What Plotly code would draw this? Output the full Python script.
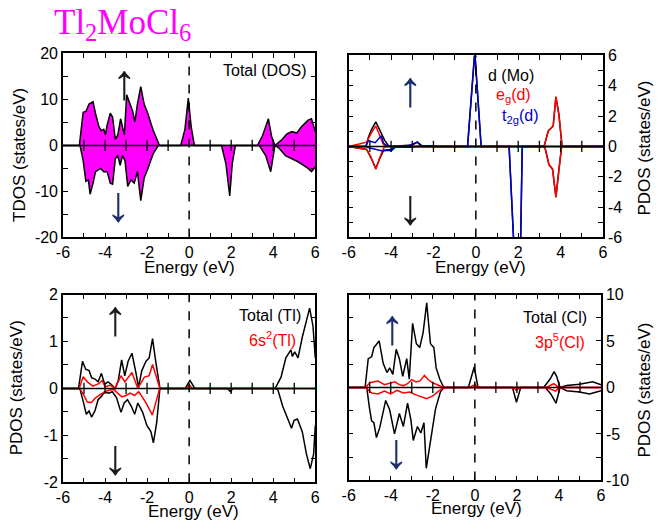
import plotly.graph_objects as go

# ---------------- data ----------------
# Top-left: total DOS
tdos_up_x = [-6, -5.22, -5.04, -4.91, -4.76, -4.57, -4.45, -4.29, -4.17, -4.06, -3.98, -3.90, -3.75, -3.64,
             -3.51, -3.39, -3.26, -3.17, -3.08, -2.97, -2.81, -2.69, -2.58, -2.46, -2.30, -2.14, -1.96, -1.72,
             -1.41, -0.40, -0.20, -0.04, 0.10, 0.25, 3.25, 3.49, 3.77, 3.92, 4.08, 4.42, 4.65, 4.89, 5.12, 5.35,
             5.66, 5.82, 6.0]
tdos_up_y = [0, 0, 7.2, 7.4, 9.0, 9.5, 6.9, 4.1, 3.2, 3.5, 2.3, 4.4, 7.0, 6.2,
             1.3, 2.3, 5.8, 4.1, 2.3, 11.0, 9.0, 7.5, 5.1, 9.0, 12.8, 9.0, 6.9, 3.4,
             0, 0, 3.5, 10.3, 4.0, 0, 0, 2.1, 5.8, 2.0, 0, 1.3, 2.5, 3.0, 2.7, 4.1,
             5.5, 5.8, 3.0]
tdos_dn_x = [-6, -5.19, -5.04, -4.91, -4.79, -4.71, -4.57, -4.45, -4.21, -4.06, -3.90, -3.75, -3.64, -3.51,
             -3.39, -3.28, -3.17, -3.05, -2.92, -2.77, -2.61, -2.46, -2.30, -2.14, -1.96, -1.72, -1.46, 1.54,
             1.75, 1.93, 2.05, 2.20, 3.33, 3.64, 3.88, 4.08, 4.26, 4.58, 4.89, 5.20, 5.66, 5.82, 6.0]
tdos_dn_y = [0, 0, -3.3, -7.8, -7.5, -10.6, -8.2, -5.7, -5.0, -5.7, -5.7, -8.2, -8.4, -2.9,
             -2.2, -4.3, -2.2, -3.3, -8.9, -7.5, -8.2, -5.7, -12.0, -7.1, -5.0, -1.9, 0, 0,
             -4.0, -11.0, -4.0, 0, 0, -2.2, -5.7, 0, -0.5, -2.2, -2.9, -3.6, -5.0, -5.7, -4.7]

# Top-right: Mo d, eg, t2g
mo_d_up_x = [-6, -5.18, -5.07, -4.92, -4.72, -4.53, -4.30, -4.10, -3.0, -2.76, -2.5, -0.39, -0.05, 0.25,
             3.22, 3.42, 3.65, 3.78, 3.92, 4.07, 6]
mo_d_up_y = [0, 0, 0.6, 1.13, 1.62, 1.07, 0.4, 0, 0.1, 0.28, 0, 0, 6.2, 0,
             0, 1.03, 1.35, 3.27, 2.1, 0, 0]
mo_d_dn_x = [-6, -5.15, -4.95, -4.72, -4.55, -4.35, -4.0, -3.8, 1.57, 1.88, 2.08, 2.19,
             3.25, 3.45, 3.62, 3.78, 3.92, 4.05, 6]
mo_d_dn_y = [0, -0.2, -0.75, -1.45, -0.85, -0.25, -0.2, 0, 0, -9, -9, 0,
             0, -1.2, -1.5, -3.35, -1.5, 0, 0]
eg_up_x = [-6, -5.15, -4.92, -4.72, -4.53, -4.38, -4.25, 3.22, 3.42, 3.65, 3.78, 3.92, 4.07, 6]
eg_up_y = [0, 0.28, 0.92, 1.35, 0.7, 0.17, 0, 0, 1.03, 1.35, 3.27, 2.1, 0, 0]
eg_dn_x = [-6, -5.15, -4.95, -4.72, -4.55, -4.35, -4.2, 3.25, 3.45, 3.62, 3.78, 3.92, 4.05, 6]
eg_dn_y = [0, -0.2, -0.7, -1.5, -0.8, -0.1, 0, 0, -1.2, -1.5, -3.35, -1.5, 0, 0]
t2g_up_x = [-6, -5.2, -5.07, -4.9, -4.75, -4.46, -4.35, -4.2, -3.9, -3.2, -3.0, -2.76, -2.6, -2.0, -1.8,
            -0.39, -0.05, 0.25, 6]
t2g_up_y = [0, 0, 0.38, 0.3, 0.25, 0.7, 0.2, 0.05, 0, 0.03, 0.12, 0.28, 0.05, 0.05, 0,
            0, 6.3, 0, 0]
t2g_dn_x = [-6, -5.2, -5.0, -4.7, -4.4, -4.1, -3.99, -3.8, -3.0, -2.8, 1.57, 1.88, 2.08, 2.19, 6]
t2g_dn_y = [0, 0, -0.1, -0.2, -0.3, -0.25, -0.3, -0.05, -0.05, 0, 0, -9, -9, 0, 0]

# Bottom-left: Tl
tl_up_x = [-6, -5.26, -5.07, -4.92, -4.76, -4.64, -4.48, -4.33, -4.17, -4.02, -3.86, -3.71, -3.52, -3.37,
           -3.21, -3.06, -2.90, -2.72, -2.52, -2.41, -2.25, -2.05, -1.90, -1.74, -1.59, -1.39, -0.19, 0.04,
           0.27, 4.09, 4.37, 4.60, 4.84, 4.91, 5.02, 5.18, 5.38, 5.58, 5.73, 5.89, 6.0]
tl_up_y = [0, 0, 0.58, 0.41, 0.38, 0.23, 0.2, 0.14, 0.32, 0.09, 0.14, 0.09, 0, 0.17,
           0.61, 0.27, 0.58, 0.75, 0.31, 0.02, 0.38, 0.58, 0.65, 1.06, 0.58, 0, 0, 0.17,
           0, 0, 0.24, 0.65, 0.82, 0.68, 0.78, 0.65, 1.09, 1.43, 1.71, 1.33, 0.65]
tl_dn_x = [-6, -5.2, -5.04, -4.89, -4.76, -4.64, -4.48, -4.33, -4.17, -4.02, -3.83, -3.65, -3.45, -3.24,
           -3.09, -2.93, -2.75, -2.59, -2.44, -2.21, -2.01, -1.82, -1.70, -1.54, -1.39, 1.82, 1.97, 2.08,
           4.09, 4.22, 4.45, 4.68, 4.87, 4.99, 5.15, 5.38, 5.58, 5.76, 5.92, 6.0]
tl_dn_y = [0, 0, -0.27, -0.55, -0.48, -0.61, -0.48, -0.24, -0.17, -0.07, -0.1, -0.07, -0.2, -0.51,
           -0.31, -0.24, -0.38, -0.55, -0.31, -0.51, -0.79, -0.92, -1.16, -0.72, 0, 0, -0.07, 0,
           0, -0.03, -0.38, -0.65, -0.85, -0.68, -0.65, -0.92, -1.4, -1.71, -1.4, -0.79]
tl_s_up_x = [-6, -5.23, -5.04, -4.84, -4.58, -4.30, -4.14, -3.99, -3.76, -3.52, -3.24, -3.06, -2.72, -2.44,
             -2.13, -1.90, -1.74, -1.39, -0.15, 0.0, 0.15, 6]
tl_s_up_y = [0, 0, 0.25, 0.14, 0.05, 0.1, 0.17, 0.03, 0.07, 0, 0.27, 0.14, 0.34, 0,
             0.24, 0.27, 0.51, 0, 0, 0.08, 0, 0]
tl_s_dn_x = [-6, -5.2, -5.0, -4.84, -4.65, -4.45, -4.2, -3.9, -3.6, -3.4, -3.2, -3.0, -2.8, -2.6, -2.4,
             -2.2, -2.0, -1.75, -1.4, 6]
tl_s_dn_y = [0, 0, -0.15, -0.29, -0.3, -0.2, -0.12, -0.05, -0.02, -0.1, -0.18, -0.15, -0.1, -0.15, -0.07,
             -0.2, -0.35, -0.57, 0, 0]

# Bottom-right: Cl
cl_up_x = [-6, -5.22, -5.07, -4.91, -4.80, -4.55, -4.36, -4.18, -4.05, -3.90, -3.74, -3.59, -3.43, -3.24,
           -3.12, -2.96, -2.78, -2.62, -2.46, -2.29, -2.11, -1.95, -1.84, -1.67, -1.48, -0.31, -0.03, 0.15,
           3.27, 3.58, 3.77, 3.89, 4.05, 4.36, 4.98, 5.6, 6.0]
cl_up_y = [0, 0, 3.1, 3.3, 4.3, 5.0, 2.6, 1.6, 2.1, 1.4, 4.1, 3.1, 1.2, 3.1,
           0.9, 6.9, 4.7, 4.3, 5.9, 9.1, 4.7, 4.3, 2.1, 0.9, 0, 0, 2.2, 0,
           0, 0.9, 1.7, 1.2, 0, 0.2, 0.35, 0.6, 0.3]
cl_dn_x = [-6, -5.14, -5.02, -4.91, -4.80, -4.68, -4.52, -4.36, -4.24, -4.05, -3.82, -3.59, -3.40, -3.20,
           -3.04, -2.93, -2.73, -2.57, -2.42, -2.31, -2.15, -2.0, -1.87, -1.64, -1.48, 1.79, 1.98, 2.18,
           3.35, 3.61, 3.86, 4.05, 4.36, 4.98, 5.45, 6.0]
cl_dn_y = [0, 0, -2.1, -3.6, -3.8, -5.4, -4.3, -2.8, -1.4, -2.4, -5.0, -2.8, -4.2, -1.7,
           -3.5, -5.7, -4.2, -4.9, -3.8, -8.7, -6.1, -4.2, -2.3, -0.5, 0, 0, -1.6, 0,
           0, -0.7, -1.7, 0, -0.35, -0.5, -0.7, -0.35]
cl_p_up_x = [-6, -5.2, -5.0, -4.6, -4.3, -4.0, -3.8, -3.6, -3.4, -3.2, -3.0, -2.8, -2.6, -2.4, -2.2, -2.0,
             -1.8, -1.5, -0.25, 0.0, 0.2, 3.4, 3.75, 4.0, 6]
cl_p_up_y = [0, 0, 0.5, 0.7, 0.3, 0.5, 0.6, 0.3, 0.2, 0.4, 0.85, 0.6, 0.7, 1.3, 0.8, 0.5,
             0.3, 0, 0, 0.3, 0, 0, 0.4, 0, 0]
cl_p_dn_x = [-6, -5.2, -5.1, -4.9, -4.6, -4.3, -4.0, -3.7, -3.4, -3.1, -2.8, -2.5, -2.3, -2.0, -1.8, -1.5,
             1.8, 1.98, 2.15, 3.4, 3.85, 4.0, 6]
cl_p_dn_y = [0, 0, -0.2, -0.6, -0.7, -0.4, -0.7, -0.3, -0.6, -0.5, -0.8, -1.0, -1.2, -0.9, -0.5, 0,
             0, -0.3, 0, 0, -0.4, 0, 0]

x_ticks = [-6, -5, -4, -3, -2, -1, 0, 1, 2, 3, 4, 5, 6]
x_ticktext = ["-6", "", "-4", "", "-2", "", "0", "", "2", "", "4", "", "6"]
zero_marks = [-5, -4, -3, -2, -1, 1, 2, 3, 4, 5]

y1_ticks = [-20, -15, -10, -5, 0, 5, 10, 15, 20]
y1_text = ["-20", "", "-10", "", "0", "", "10", "", "20"]
y2_ticks = [-6, -5, -4, -3, -2, -1, 0, 1, 2, 3, 4, 5, 6]
y2_text = ["-6", "", "-4", "", "-2", "", "0", "", "2", "", "4", "", "6"]
y3_ticks = [-2, -1.5, -1, -0.5, 0, 0.5, 1, 1.5, 2]
y3_text = ["-2", "", "-1", "", "0", "", "1", "", "2"]
y4_ticks = [-10, -7.5, -5, -2.5, 0, 2.5, 5, 7.5, 10]
y4_text = ["-10", "", "-5", "", "0", "", "5", "", "10"]

MAG = "#ff00ff"
RED = "#ff0000"
BLUE = "#0000cc"
FONT = "Liberation Sans"

W, H = 661, 531
def px(x):
    return x / W
def py(y):
    return 1 - y / H

fig = go.Figure()

def line(x, y, color, xa, ya, width=1.5, fill=None, fillcolor=None):
    fig.add_trace(go.Scatter(x=x, y=y, mode="lines", line=dict(color=color, width=width),
                             fill=fill, fillcolor=fillcolor, xaxis=xa, yaxis=ya,
                             showlegend=False, hoverinfo="skip"))

# panel 1
line(tdos_up_x, tdos_up_y, "black", "x", "y", fill="tozeroy", fillcolor=MAG)
line(tdos_dn_x, tdos_dn_y, "black", "x", "y", fill="tozeroy", fillcolor=MAG)
# panel 2
line(mo_d_up_x, mo_d_up_y, "black", "x2", "y2")
line(mo_d_dn_x, mo_d_dn_y, "black", "x2", "y2")
line(eg_up_x, eg_up_y, RED, "x2", "y2")
line(eg_dn_x, eg_dn_y, RED, "x2", "y2")
line(t2g_up_x, t2g_up_y, BLUE, "x2", "y2")
line(t2g_dn_x, t2g_dn_y, BLUE, "x2", "y2")
# panel 3
line(tl_up_x, tl_up_y, "black", "x3", "y3")
line(tl_dn_x, tl_dn_y, "black", "x3", "y3")
line(tl_s_up_x, tl_s_up_y, RED, "x3", "y3")
line(tl_s_dn_x, tl_s_dn_y, RED, "x3", "y3")
# panel 4
line(cl_up_x, cl_up_y, "black", "x4", "y4")
line(cl_dn_x, cl_dn_y, "black", "x4", "y4")
line(cl_p_up_x, cl_p_up_y, RED, "x4", "y4")
line(cl_p_dn_x, cl_p_dn_y, RED, "x4", "y4")

# zero-axis tick marks
for xa, ya in [("x", "y"), ("x2", "y2"), ("x3", "y3"), ("x4", "y4")]:
    fig.add_trace(go.Scatter(x=zero_marks, y=[0] * len(zero_marks), mode="markers",
                             marker=dict(symbol="line-ns-open", size=8, color="black",
                                         line=dict(color="black", width=1.3)),
                             xaxis=xa, yaxis=ya, showlegend=False, hoverinfo="skip"))

doms = {
    1: ([px(57), px(314)], [py(237), py(47)]),
    2: ([px(348), px(607)], [py(237), py(49)]),
    3: ([px(57), px(314)], [py(490), py(296)]),
    4: ([px(348), px(605)], [py(488), py(296)]),
}
yinfo = {
    1: ([-20, 20], y1_ticks, y1_text, "left"),
    2: ([-6, 6], y2_ticks, y2_text, "right"),
    3: ([-2, 2], y3_ticks, y3_text, "left"),
    4: ([-10, 10], y4_ticks, y4_text, "right"),
}
common = dict(showline=True, linecolor="black", linewidth=1.5, mirror="allticks", ticks="inside",
              ticklen=5, tickwidth=1.2, tickcolor="black", showgrid=False, zeroline=False,
              tickfont=dict(family=FONT, size=16, color="black"))
layout = {}
for i in range(1, 5):
    sfx = "" if i == 1 else str(i)
    xd, yd = doms[i]
    rng, tv, tt, side = yinfo[i]
    layout["xaxis" + sfx] = dict(domain=xd, range=[-6, 6], tickvals=x_ticks, ticktext=x_ticktext,
                                 anchor="y" + sfx, **common)
    layout["yaxis" + sfx] = dict(domain=yd, range=rng, tickvals=tv, ticktext=tt, side=side,
                                 anchor="x" + sfx, **common)

shapes = []
for i in range(1, 5):
    sfx = "" if i == 1 else str(i)
    shapes.append(dict(type="line", xref="x" + sfx, yref="y" + sfx + " domain", x0=0, x1=0, y0=0, y1=1,
                       line=dict(color="black", width=1.5, dash="dash"), layer="above"))
    shapes.append(dict(type="line", xref="x" + sfx + " domain", yref="y" + sfx, x0=0, x1=1, y0=0, y1=0,
                       line=dict(color="black", width=1.5), layer="above"))

ann = []
def text(t, x, y, size=16, color="black", xanchor="center", yanchor="middle", angle=0, family=FONT):
    ann.append(dict(text=t, x=px(x), y=py(y), xref="paper", yref="paper", showarrow=False,
                    xanchor=xanchor, yanchor=yanchor, textangle=angle,
                    font=dict(family=family, size=size, color=color)))

# title
text("Tl<sub>2</sub>MoCl<sub>6</sub>", 46, 17, size=35, color=MAG, xanchor="left", yanchor="middle",
     family="Liberation Serif")
# axis titles
text("Energy (eV)", 186, 268, size=17)
text("Energy (eV)", 482, 268, size=17)
text("Energy (eV)", 190, 520, size=17)
text("Energy (eV)", 478, 517, size=17)
text("TDOS (states/eV)", 12, 152, size=17, angle=-90)
text("PDOS (states/eV)", 10, 392, size=17, angle=-90)
text("PDOS (states/eV)", 649, 145, size=17, angle=-90)
text("PDOS (states/eV)", 649, 395, size=17, angle=-90)
# legends
text("Total (DOS)", 308, 65, xanchor="right")
text("d (Mo)", 539, 70, xanchor="right")
text("e<sub>g</sub>(d)", 536, 90, color=RED, xanchor="right")
text("t<sub>2g</sub>(d)", 543, 112, color=BLUE, xanchor="right")
text("Total (Tl)", 301, 318, xanchor="right")
text("6s<sup>2</sup>(Tl)", 296, 342, color=RED, xanchor="right")
text("Total (Cl)", 593, 320, xanchor="right")
text("3p<sup>5</sup>(Cl)", 591, 344, color=RED, xanchor="right")
# spin arrows
AR = "Liberation Sans"
text("↑", 120, 76, size=50, color="#1a1a1a", family=AR)
text("↓", 114, 202, size=50, color="#1c2f6b", family=AR)
text("↑", 411, 84, size=50, color="#1c2f6b", family=AR)
text("↓", 411, 206, size=50, color="#1a1a1a", family=AR)
text("↑", 110, 320, size=50, color="#1a1a1a", family=AR)
text("↓", 110, 464, size=50, color="#1a1a1a", family=AR)
text("↑", 393, 330, size=50, color="#1c2f6b", family=AR)
text("↓", 397, 458, size=50, color="#1c2f6b", family=AR)

fig.update_layout(width=W, height=H, margin=dict(l=0, r=0, t=0, b=0),
                  paper_bgcolor="white", plot_bgcolor="white", shapes=shapes, annotations=ann,
                  **layout)
fig.write_html("out.html", config={"displayModeBar": False},
               post_script="document.body.style.margin='0';document.body.style.overflow='hidden';")
